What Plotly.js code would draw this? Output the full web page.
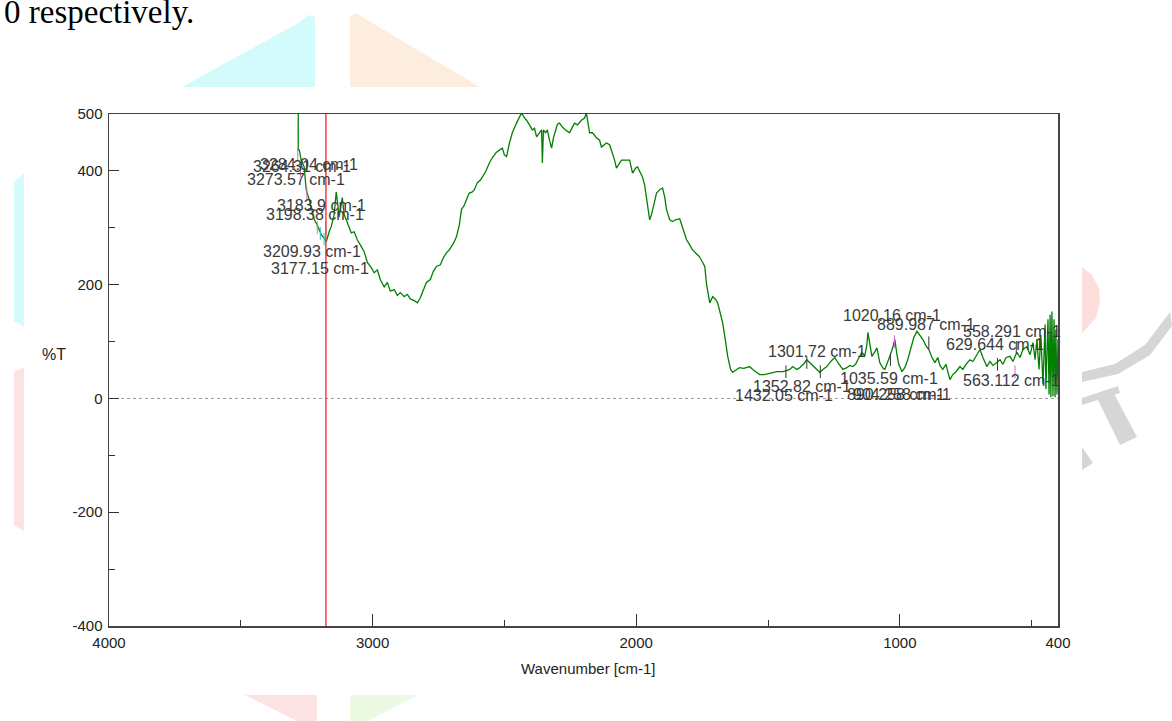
<!DOCTYPE html>
<html>
<head>
<meta charset="utf-8">
<script src="https://cdn.plot.ly/plotly-3.0.1.min.js"></script>
<style>html,body{margin:0;padding:0;background:#fff;}#chart{width:1172px;height:721px;}</style>
</head>
<body>
<div id="chart"></div>
<script>
// ---------- data ----------
const wavenumber = [
 3283, 3282, 3278.5, 3271, 3259.5, 3252, 3240, 3233, 3221, 3210,
 3195, 3184, 3176, 3165, 3157, 3146, 3138, 3130, 3127, 3115,
 3108, 3100, 3089, 3081, 3070, 3058, 3043, 3032, 3020, 3005,
 2994, 2982, 2971, 2956, 2944, 2933, 2918, 2906, 2895, 2880,
 2868, 2857, 2842, 2830, 2819, 2808, 2796, 2781, 2770, 2758,
 2743, 2732, 2720, 2709, 2694, 2682, 2671, 2663, 2652, 2640,
 2633, 2622, 2614, 2603, 2591, 2584, 2572, 2557, 2546, 2530,
 2519, 2508, 2500, 2492, 2481, 2470, 2454, 2443, 2435, 2424,
 2416, 2405, 2394, 2386, 2378, 2367, 2359, 2356, 2352, 2344,
 2337, 2329, 2321, 2314, 2306, 2299, 2291, 2280, 2268, 2253,
 2242, 2234, 2223, 2208, 2196, 2189, 2177, 2166, 2151, 2139,
 2132, 2120, 2113, 2101, 2094, 2082, 2075, 2063, 2056, 2041,
 2025, 2014, 2002, 1995, 1984, 1976, 1968, 1961, 1953, 1949,
 1942, 1930, 1923, 1911, 1900, 1892, 1885, 1873, 1862, 1851,
 1835, 1824, 1809, 1797, 1786, 1771, 1760, 1748, 1740, 1733,
 1721, 1710, 1699, 1691, 1680, 1672, 1661, 1653, 1642, 1634,
 1619, 1608, 1592, 1581, 1570, 1558, 1543, 1532, 1513, 1494,
 1482, 1467, 1456, 1444, 1429, 1418, 1406, 1391, 1380, 1364,
 1353, 1342, 1330, 1315, 1304, 1292, 1277, 1262, 1247, 1232,
 1216, 1201, 1190, 1178, 1167, 1155, 1144, 1133, 1125, 1121,
 1114, 1106, 1095, 1087, 1076, 1065, 1057, 1046, 1038, 1027,
 1019, 1011, 1004, 992, 981, 970, 958, 947, 935, 924,
 913, 901, 890, 878, 867, 856, 848, 837, 825, 818,
 810, 799, 787, 772, 761, 749, 734, 723, 711, 696,
 685, 670, 658, 647, 632, 620, 609, 597, 582, 571,
 556, 544, 533, 518, 506, 495, 487, 480, 472, 465,
 457, 449, 446, 438, 434, 430, 427, 423, 419, 415,
 411, 408, 404, 400
];
const transmittance = [
 700, 437, 437, 419, 407, 367, 349, 337, 314, 305,
 288, 282, 275, 293, 302, 323, 363, 332, 319, 353,
 323, 314, 300, 291, 293, 279, 267, 258, 239, 230,
 221, 226, 209, 196, 204, 189, 191, 181, 186, 179,
 183, 175, 172, 168, 177, 191, 204, 209, 223, 232,
 235, 247, 256, 261, 272, 284, 305, 332, 340, 354,
 361, 363, 367, 379, 384, 389, 398, 414, 423, 433,
 437, 440, 428, 425, 449, 467, 484, 495, 502, 493,
 489, 481, 472, 475, 460, 467, 472, 414, 472, 467,
 472, 454, 440, 458, 472, 482, 484, 477, 472, 467,
 477, 484, 481, 489, 493, 502, 467, 467, 458, 454,
 442, 446, 449, 446, 437, 419, 405, 414, 419, 419,
 419, 396, 405, 407, 398, 389, 375, 354, 328, 314,
 323, 349, 361, 367, 370, 354, 332, 314, 311, 314,
 316, 300, 279, 270, 261, 254, 249, 239, 232, 200,
 168, 179, 174, 168, 147, 133, 100, 74, 51, 46,
 51, 54, 53, 54, 56, 51, 46, 42, 42, 44,
 46, 47, 47, 47, 49, 51, 56, 51, 54, 61,
 68, 63, 56, 51, 46, 51, 56, 65, 72, 61,
 51, 54, 58, 56, 61, 72, 81, 75, 95, 116,
 95, 74, 82, 89, 63, 54, 51, 63, 74, 89,
 104, 77, 60, 47, 54, 68, 89, 107, 118, 112,
 104, 93, 86, 72, 63, 72, 58, 51, 60, 47,
 33, 42, 47, 56, 51, 60, 68, 65, 75, 86,
 72, 56, 65, 58, 63, 68, 60, 72, 74, 65,
 81, 72, 86, 91, 77, 98, 68, 104, 51, 112,
 25, 130, 16, 139, 7, 147, 2, 153, 4, 139,
 2, 121, 7, 104
];

// peak labels: text, and where the text sits (wavenumber, %T)
const peakText = ["3284.04 cm-1","3264.31 cm-1","3273.57 cm-1","3183.9 cm-1","3198.38 cm-1","3209.93 cm-1","3177.15 cm-1",
  "1020.16 cm-1","889.987 cm-1","558.291 cm-1","629.644 cm-1","1301.72 cm-1","1035.59 cm-1","563.112 cm-1",
  "1352.82 cm-1","1432.05 cm-1","890.258 cm-1","904.258 cm-1"];
const peakTextWn = [3240, 3267, 3290, 3195, 3218, 3229, 3199, 1030, 901, 575, 639, 1315, 1042, 578, 1372, 1440, 1015, 992];
const peakTextT  = [412, 407, 384, 340, 323, 258, 228, 146, 130, 118, 95, 82, 35, 32, 21, 5, 7, 7];

// small peak markers (wavenumber, %T)
const markWn = [3284.04, 3273.57, 3249.31, 3209.93, 3198.38, 3183.9, 3177.15, 1432.05, 1352.82, 1301.72, 1035.59, 1020.16, 889.987, 629.644, 563.112, 558.291];
const markT  = [430, 400, 360, 300, 290, 280, 300, 47, 63, 47, 68, 100, 98, 60, 47, 90];
const markColor = ["#d070d0","#d070d0","#d070d0","#d070d0","#30c0d0","#30c0d0","#30c0d0","#333","#333","#333","#333","#d070d0","#333","#333","#d070d0","#333"];

const cursorWn = 3177.15;
const xTicks = [4000, 3000, 2000, 1000, 400];
const xMinor = [3500, 2500, 1500, 500];
const yTicks = [500, 400, 200, 0, -200, -400];
const yMinor = [300, 100, -100, -300];

// ---------- layout geometry ----------
const W = 1172, H = 721;
const L = 109, R = 1058, TOP = 114, BOT = 626;
const PW = R - L, PH = BOT - TOP;
const px = v => (v - L) / PW;          // pixel x -> paper
const py = v => (BOT - v) / PH;        // pixel y -> paper
const path = pts => 'M' + pts.map(p => px(p[0]) + ',' + py(p[1])).join(' L') + ' Z';

const FONT = '"Liberation Sans", Arial, sans-serif';

// decorative background watermark pieces
const deco = [
  {pts: [[182,87],[300,22],[308,15],[315,17],[315,87]], c: 'rgb(212,251,252)'},
  {pts: [[350,87],[350,16],[356,13],[362,17],[480,87]], c: 'rgb(253,237,222)'},
  {pts: [[14,182],[24,173],[24,327],[14,321]], c: 'rgb(212,251,252)'},
  {pts: [[14,372],[24,367],[24,531],[14,525]], c: 'rgb(253,226,226)'},
  {pts: [[245,695],[317,695],[317,721],[297,721]], c: 'rgb(253,226,226)'},
  {pts: [[350,695],[418,695],[368,721],[350,721]], c: 'rgb(236,250,228)'},
  {pts: [[1082,267],[1092,275],[1099,288],[1100,302],[1096,318],[1082,333]], c: 'rgb(253,222,218)'},
  {pts: [[1082,372],[1115,364],[1145,345],[1170,312],[1172,326],[1150,355],[1118,374],[1082,382]], c: 'rgb(214,214,214)'},
  {pts: [[1082,398],[1118,386],[1120,393],[1082,405]], c: 'rgb(214,214,214)'},
  {pts: [[1095,394],[1112,390],[1137,437],[1120,445]], c: 'rgb(214,214,214)'},
  {pts: [[1082,447],[1093,463],[1082,470]], c: 'rgb(214,214,214)'}
];

const shapes = deco.map(d => ({type: 'path', xref: 'paper', yref: 'paper', path: path(d.pts),
  fillcolor: d.c, line: {width: 0}, layer: 'below'}));

shapes.push({type: 'line', xref: 'paper', yref: 'y', x0: 0, x1: 1, y0: 0, y1: 0,
  line: {color: '#999', width: 1, dash: 'dot'}, layer: 'below'});
shapes.push({type: 'line', xref: 'x', yref: 'paper', x0: cursorWn, x1: cursorWn, y0: 0, y1: 1,
  line: {color: '#ff3b3b', width: 1.5}});

const annotations = peakText.map((t, i) => ({
  x: peakTextWn[i], y: peakTextT[i], xref: 'x', yref: 'y', text: t, showarrow: false,
  font: {family: FONT, size: 16, color: '#3a3a3a'}, xanchor: 'center', yanchor: 'middle'
}));
annotations.push({xref: 'paper', yref: 'paper', x: px(54), y: py(354), text: '%T', showarrow: false,
  font: {family: FONT, size: 16, color: '#222'}, xanchor: 'center', yanchor: 'middle'});
annotations.push({xref: 'paper', yref: 'paper', x: px(588), y: py(668), text: 'Wavenumber [cm-1]', showarrow: false,
  font: {family: FONT, size: 15, color: '#222'}, xanchor: 'center', yanchor: 'middle'});
annotations.push({xref: 'paper', yref: 'paper', x: px(2), y: py(12), text: '0 respectively.', showarrow: false,
  font: {family: '"Liberation Serif", "Times New Roman", serif', size: 33, color: '#000'}, xanchor: 'left', yanchor: 'middle'});

const traces = [
  {x: wavenumber, y: transmittance, type: 'scatter', mode: 'lines',
   line: {color: 'rgb(0,128,0)', width: 1.3}, hoverinfo: 'x+y', showlegend: false},
  {x: markWn, y: markT, type: 'scatter', mode: 'markers',
   marker: {symbol: 'line-ns-open', size: 9, color: markColor, line: {color: markColor, width: 1}}, showlegend: false, hoverinfo: 'skip'}
];

const layout = {
  width: W, height: H,
  margin: {l: L, r: W - R, t: TOP, b: H - BOT, pad: 0},
  paper_bgcolor: '#fff', plot_bgcolor: 'rgba(0,0,0,0)',
  showlegend: false,
  xaxis: {
    range: [4000, 400], autorange: false, showgrid: false, zeroline: false,
    tickmode: 'array', tickvals: xTicks, ticktext: xTicks.map(String),
    ticks: 'inside', ticklen: 12, tickwidth: 1, tickcolor: '#333',
    minor: {tickmode: 'array', tickvals: xMinor, ticks: 'inside', ticklen: 6, tickwidth: 1, tickcolor: '#333', showgrid: false},
    showline: true, linecolor: '#444', linewidth: 1.5, mirror: true,
    tickfont: {family: FONT, size: 15, color: '#222'}, ticklabelstandoff: 2
  },
  yaxis: {
    range: [-400, 500], autorange: false, showgrid: false, zeroline: false,
    tickmode: 'array', tickvals: yTicks, ticktext: yTicks.map(String),
    ticks: 'inside', ticklen: 10, tickwidth: 1, tickcolor: '#333',
    minor: {tickmode: 'array', tickvals: yMinor, ticks: 'inside', ticklen: 6, tickwidth: 1, tickcolor: '#333', showgrid: false},
    showline: true, linecolor: '#444', linewidth: 1.5, mirror: true,
    tickfont: {family: FONT, size: 15, color: '#222'}, ticklabelstandoff: 2
  },
  shapes: shapes,
  annotations: annotations
};

Plotly.newPlot('chart', traces, layout, {displayModeBar: false, staticPlot: true});
</script>
</body>
</html>
